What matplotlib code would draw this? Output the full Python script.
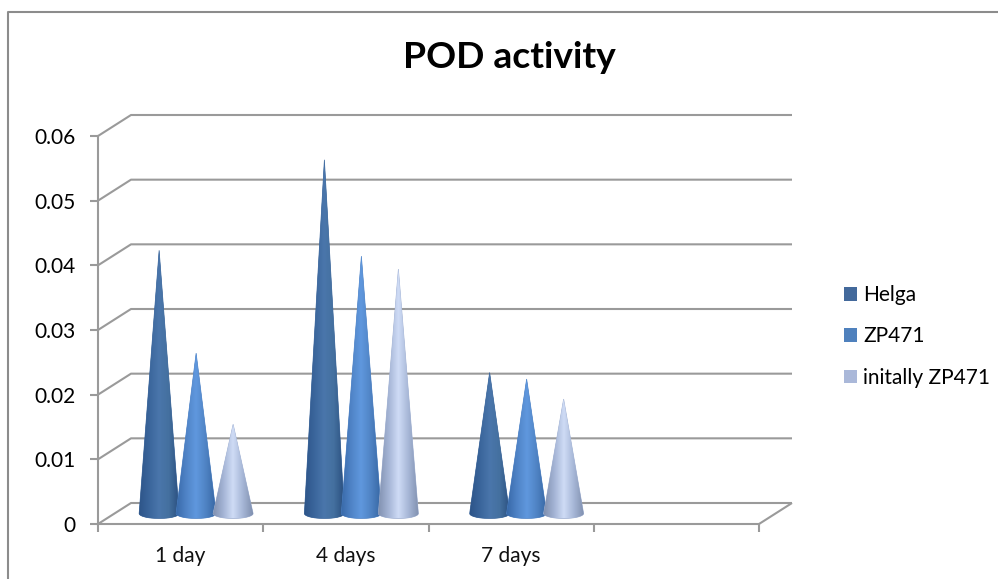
import numpy as np
import matplotlib
matplotlib.use("Agg")
import matplotlib.pyplot as plt
from matplotlib.lines import Line2D
from matplotlib.patches import Patch, PathPatch
from matplotlib.path import Path
from matplotlib.colors import LinearSegmentedColormap

categories = ["1 day", "4 days", "7 days"]
empty_slots = [""]
helga = [0.0407, 0.0547, 0.0218]
zp471 = [0.0248, 0.0398, 0.0208]
initally = [0.0138, 0.0378, 0.0177]
series_names = ["Helga", "ZP471", "initally ZP471"]
y_ticks = [0, 0.01, 0.02, 0.03, 0.04, 0.05, 0.06]
y_labels = ["0", "0.01", "0.02", "0.03", "0.04", "0.05", "0.06"]
legend_colors = ["#43699b", "#4f81bd", "#aab8d9"]
cone_stops = [
    ["#2d5488", "#3a659b", "#4a76ab", "#44709f", "#2b5080"],
    ["#3869a8", "#4f83c6", "#6098de", "#4f83c4", "#3767a3"],
    ["#8090af", "#a3b3d4", "#cfdcf6", "#a6b6d6", "#8090af"],
]

W, H = 998, 579
plt.rcParams["font.family"] = ["Lato", "DejaVu Sans"]
fig = plt.figure(figsize=(W / 100, H / 100), dpi=100)
ax = fig.add_axes([98 / W, (H - 524) / H, (759 - 98) / W, (524 - 136) / H])
ax.set_facecolor("none")

GRAY = "#9a9a9a"
n_slots = len(categories) + len(empty_slots)
# depth of the 3-D box, in data units
dx = 33 / ((759 - 98) / n_slots)
dy = 21 / ((524 - 136) / 0.06)

# walls and floor
lkw = dict(color=GRAY, lw=1.5, clip_on=False, solid_capstyle="butt", zorder=1)
for v in y_ticks:
    ax.plot([0, dx, n_slots + dx], [v, v + dy, v + dy], **lkw)
ax.plot([n_slots, n_slots + dx], [0, dy], **lkw)

# cones
half = 20 / ((759 - 98) / n_slots)
ry = 5 / ((524 - 136) / 0.06)
step = 37 / ((759 - 98) / n_slots)
for s, vals in enumerate([helga, zp471, initally]):
    cmap = LinearSegmentedColormap.from_list(f"c{s}", cone_stops[s])
    grad = np.linspace(0, 1, 128)[None, :]
    for c, v in enumerate(vals):
        cx = c + 0.5 + dx / 2 + (s - 1) * step - 0.006
        base = dy / 2
        t = np.linspace(np.pi, 2 * np.pi, 30)
        ex = cx + half * np.cos(t)
        ey = base + ry * np.sin(t)
        verts = [(cx, v + dy / 2)] + list(zip(ex, ey)) + [(cx, v + dy / 2)]
        codes = [Path.MOVETO] + [Path.LINETO] * (len(verts) - 2) + [Path.CLOSEPOLY]
        path = Path(verts, codes)
        shadow = PathPatch(path, facecolor=cone_stops[s][1], edgecolor=cone_stops[s][1],
                           lw=0.5, zorder=2 + s * 0.1 + c, clip_on=False)
        ax.add_patch(shadow)
        im = ax.imshow(grad, cmap=cmap, aspect="auto", origin="lower",
                       extent=[cx - half, cx + half, base - ry, v + dy / 2],
                       zorder=2.01 + s * 0.1 + c, interpolation="bilinear")
        patch = PathPatch(path, transform=ax.transData, facecolor="none", edgecolor="none")
        im.set_clip_path(patch)

ax.set_xlim(0, n_slots)
ax.set_ylim(0, 0.06)

# axes
for side in ("top", "right"):
    ax.spines[side].set_visible(False)
for side in ("left", "bottom"):
    ax.spines[side].set_color(GRAY)
    ax.spines[side].set_linewidth(1.5)
ax.set_yticks(y_ticks, y_labels)
ax.set_xticks(np.arange(n_slots + 1))
ax.set_xticklabels([])
ax.set_xticks(np.arange(len(categories)) + 0.5, categories, minor=True)
ax.tick_params(axis="both", which="major", length=5.5, width=1.5, color=GRAY,
               labelsize=15, labelcolor="black")
ax.tick_params(axis="y", pad=10.5)
ax.tick_params(axis="x", which="minor", length=0, labelsize=15, pad=15.5, labelcolor="#111111")

# title
fig.text(509 / W, (H - 58) / H, "POD activity", ha="center", va="center",
         fontsize=26.8, fontweight="bold", color="black")

# legend
handles = [Patch(facecolor=c, edgecolor="none", label=n) for c, n in zip(legend_colors, series_names)]
fig.legend(handles=handles, loc="upper left", bbox_to_anchor=(838 / W, (H - 279) / H),
           frameon=False, fontsize=15, handlelength=0.62, handleheight=0.62,
           handletextpad=0.3, labelspacing=1.02, borderpad=0.3, borderaxespad=0)

# outer chart frame
fig.add_artist(Line2D([7.5 / W, 7.5 / W, 1], [0, (H - 11.5) / H, (H - 11.5) / H],
                      color="#8c8c8c", lw=1.5, transform=fig.transFigure))

fig.savefig("out.png", dpi=100)
